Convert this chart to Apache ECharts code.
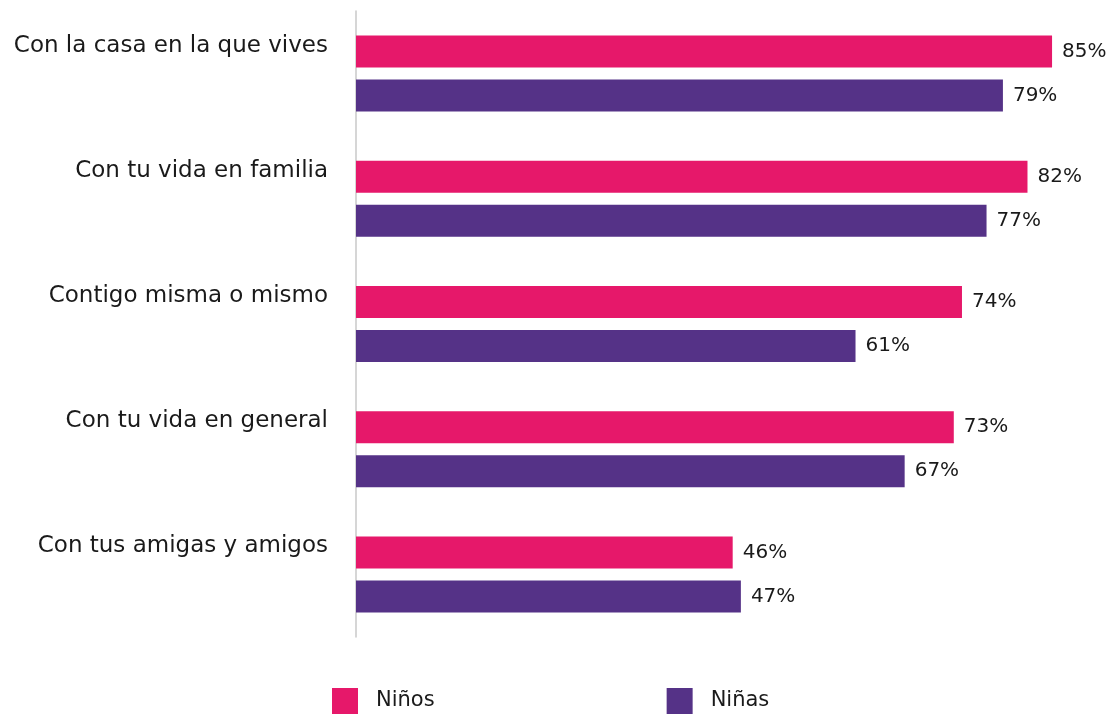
<!DOCTYPE html>
<html>
<head>
<meta charset="utf-8">
<script src="https://cdn.jsdelivr.net/npm/echarts@6/dist/echarts.min.js"></script>
<style>html,body{margin:0;padding:0;background:#fff}#c{width:1114px;height:715px}</style>
</head>
<body>
<div id="c"></div>
<script>
const categories = ["Con la casa en la que vives", "Con tu vida en familia", "Contigo misma o mismo", "Con tu vida en general", "Con tus amigas y amigos"];
const seriesNames = ["Niños", "Niñas"];
const ninos = [85, 82, 74, 73, 46];
const ninas = [79, 77, 61, 67, 47];
const FONT = "DejaVu Sans";
const chart = echarts.init(document.getElementById('c'));
const lbl = {show: true, position: 'right', distance: 10, formatter: p => p.value + '%', color: '#1a1a1a', fontFamily: FONT, fontSize: 20};
chart.setOption({
  animation: false,
  grid: {left: 356, right: 21, top: 11, height: 626, containLabel: false},
  legend: {
    data: seriesNames, top: 683, left: 327, itemWidth: 26, itemHeight: 26, itemGap: 232,
    icon: 'rect', textStyle: {fontFamily: FONT, fontSize: 21, color: '#1a1a1a', padding: [0,0,0,13]}
  },
  xAxis: {type: 'value', min: 0, max: 90, show: false},
  yAxis: {
    type: 'category', data: categories, inverse: true,
    axisLine: {show: true, lineStyle: {color: '#c8c8c8', width: 1.5}},
    axisTick: {show: false},
    axisLabel: {margin: 28, fontFamily: FONT, fontSize: 23, color: '#1a1a1a', verticalAlign: 'middle', lineHeight: 56,
      formatter: v => v + '\n '}
  },
  series: [
    {name: seriesNames[0], type: 'bar', data: ninos, barWidth: 32, barGap: '37.5%', itemStyle: {color: '#E6186A'}, label: lbl},
    {name: seriesNames[1], type: 'bar', data: ninas, barWidth: 32, itemStyle: {color: '#553287'}, label: lbl}
  ]
});
</script>
</body>
</html>
